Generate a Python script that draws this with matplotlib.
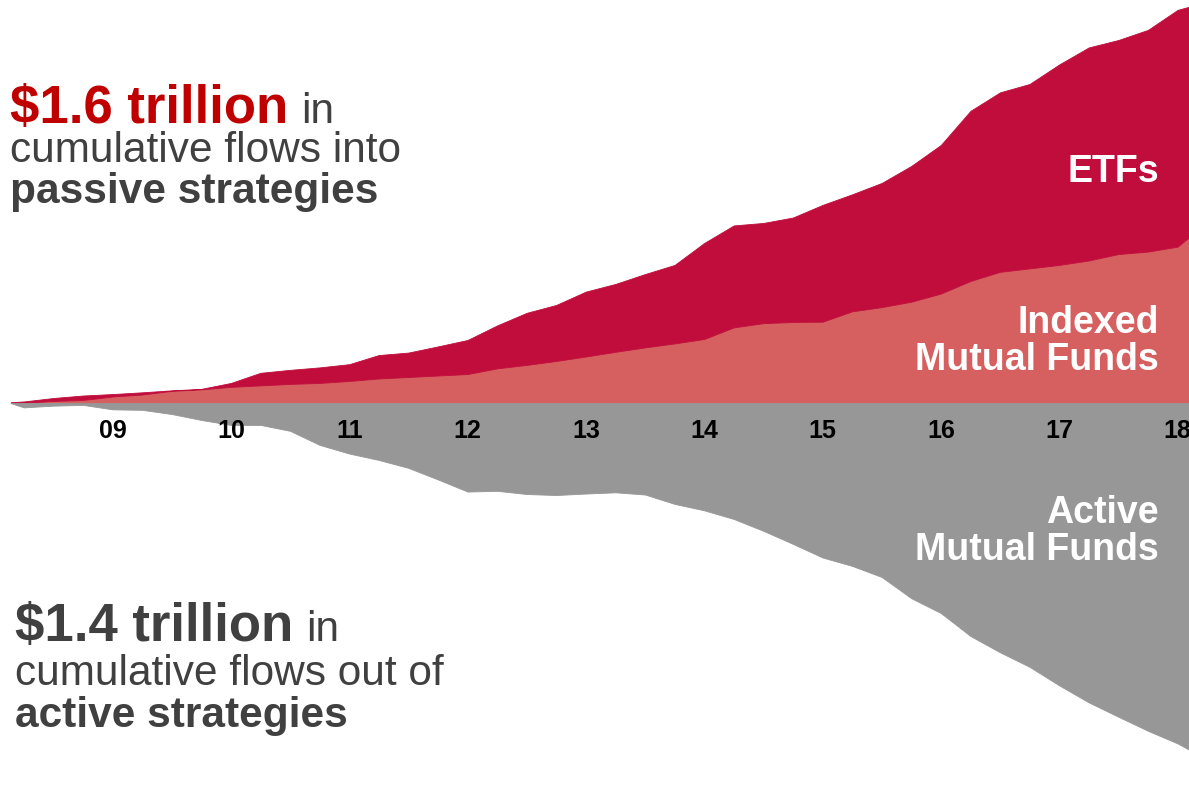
import matplotlib
matplotlib.use("Agg")
import matplotlib.pyplot as plt

plt.rcParams["font.family"] = ["Liberation Sans", "DejaVu Sans"]

# cumulative flows, $bn, roughly quarterly from early 2008 to early 2018
dates = [2008.14, 2008.25, 2008.5, 2008.75,
         2009.0, 2009.25, 2009.5, 2009.75, 2010.0, 2010.25, 2010.5, 2010.75,
         2011.0, 2011.25, 2011.5, 2011.75, 2012.0, 2012.25, 2012.5, 2012.75,
         2013.0, 2013.25, 2013.5, 2013.75, 2014.0, 2014.25, 2014.5, 2014.75,
         2015.0, 2015.25, 2015.5, 2015.75, 2016.0, 2016.25, 2016.5, 2016.75,
         2017.0, 2017.25, 2017.5, 2017.75, 2018.0, 2018.1]
indexed_mf = [0, 1, 8, 12, 26, 34, 49, 55, 65, 71, 77, 81, 89, 99, 105, 111,
              117, 140, 154, 170, 188, 207, 225, 241, 259, 306, 323, 328,
              329, 371, 388, 410, 443, 494, 531, 545, 559, 577, 603, 613, 633, 672]
etfs = [3, 5, 12, 18, 10, 9, 2, 2, 16, 51, 57, 63, 68, 95, 99, 118,
        138, 174, 211, 227, 263, 275, 297, 318, 389, 413, 406, 423,
        473, 474, 503, 550, 602, 689, 727, 747, 812, 863, 867, 898, 959, 933]
active_mf = [-1, -18, -11, -8, -26, -28, -45, -69, -89, -89, -113, -170,
             -205, -231, -263, -310, -359, -356, -369, -373, -367, -362, -371, -409,
             -435, -470, -518, -571, -626, -660, -705, -791, -851, -944, -1010, -1069,
             -1144, -1213, -1271, -1328, -1379, -1405]
tick_years = [2009, 2010, 2011, 2012, 2013, 2014, 2015, 2016, 2017, 2018]
tick_labels = ["09", "10", "11", "12", "13", "14", "15", "16", "17", "18"]

C_ETF = "#C00D3C"
C_IDX = "#D6605F"
C_ACT = "#979797"
C_TXT = "#404040"
C_RED = "#C00000"

W, H = 1189, 795
fig = plt.figure(figsize=(W / 100, H / 100), dpi=100)
ax = fig.add_axes([0, 0, 1, 1])
ax.axis("off")

# edge in the fill colour so no light seam shows between the areas
polys = ax.stackplot(dates, indexed_mf, etfs, colors=[C_IDX, C_ETF])
for p, c in zip(polys, [C_IDX, C_ETF]):
    p.set_edgecolor(c)
    p.set_linewidth(0.6)
ax.fill_between(dates, active_mf, 0, facecolor=C_ACT, edgecolor=C_ACT, linewidth=0.6)
ax.set_xlim(2008.049, 2018.097)
ax.set_ylim(-1588, 1632)

# year labels sit just under the zero line
for yr, lab in zip(tick_years, tick_labels):
    ax.text(yr, 1 - 438 / H, lab, transform=ax.get_xaxis_transform(),
            ha="center", va="baseline", fontsize=18, fontweight="bold", color="black")

def px(x, y):
    return x / W, 1 - y / H

# series labels inside the areas
for txt, y in [("ETFs", 182), ("Indexed", 333), ("Mutual Funds", 370),
               ("Active", 523), ("Mutual Funds", 560)]:
    fig.text(*px(1159, y), txt, ha="right", va="baseline", fontsize=27,
             fontweight="bold", color="white")

def headline(x, y, big, color):
    t = fig.text(*px(x, y), big, va="baseline", fontsize=38, fontweight="bold", color=color)
    fig.canvas.draw()
    bb = t.get_window_extent(renderer=fig.canvas.get_renderer())
    fig.text((bb.x1 + 13) / W, 1 - y / H, "in", va="baseline", fontsize=30.5, color=C_TXT)

headline(10, 123, "$1.6 trillion", C_RED)
fig.text(*px(10, 162), "cumulative flows into", va="baseline", fontsize=30.5, color=C_TXT)
fig.text(*px(10, 203), "passive strategies", va="baseline", fontsize=30.5,
         fontweight="bold", color=C_TXT)

headline(15, 641, "$1.4 trillion", C_TXT)
fig.text(*px(15, 685), "cumulative flows out of", va="baseline", fontsize=30.5, color=C_TXT)
fig.text(*px(15, 727), "active strategies", va="baseline", fontsize=30.5,
         fontweight="bold", color=C_TXT)

fig.savefig("out.png", dpi=100)
